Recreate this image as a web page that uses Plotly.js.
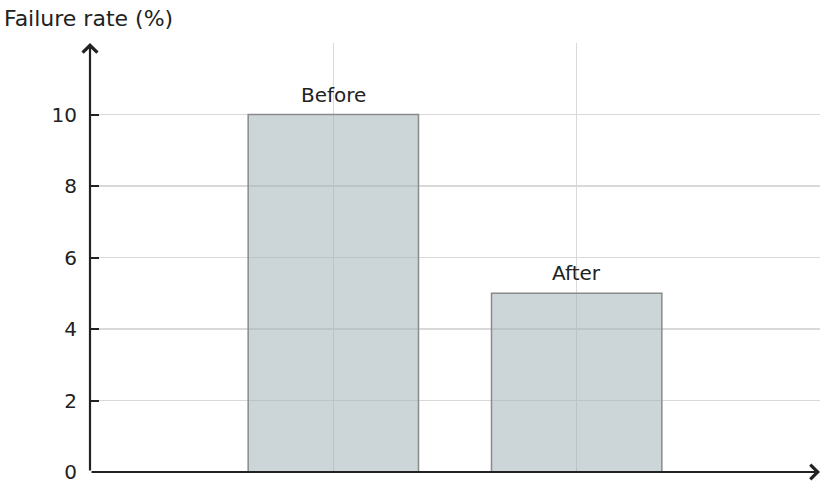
<!DOCTYPE html>
<html>
<head>
<meta charset="utf-8">
<script src="https://cdn.plot.ly/plotly-3.0.1.min.js"></script>
<style>html,body{margin:0;padding:0;background:#fff}#chart{width:823px;height:486px}</style>
</head>
<body>
<div id="chart"></div>
<script>
var categories = ["Before", "After"];
var positions = [1, 2];
var failureRate = [10, 5];
var yTickVals = [0, 2, 4, 6, 8, 10, 12];
var yTickText = ["0", "2", "4", "6", "8", "10", ""];

var font = "DejaVu Sans, sans-serif";
var ink = "#222222";

var trace = {
  type: "bar",
  x: positions,
  y: failureRate,
  width: 0.7,
  marker: {color: "rgba(163,178,184,0.55)", line: {color: "#8a8a8a", width: 1.5}},
  hoverinfo: "skip"
};

var annotations = categories.map(function (c, i) {
  return {x: positions[i], y: failureRate[i], xref: "x", yref: "y", text: c,
    showarrow: false, yanchor: "middle", yshift: 20,
    font: {family: font, size: 20, color: ink}};
});
// axis arrows
annotations.push({x: 0, y: 12, ax: 0, ay: 0, xref: "x", yref: "y", axref: "x", ayref: "y",
  text: "", showarrow: true, arrowhead: 4, arrowsize: 1.3, arrowwidth: 2.2, arrowcolor: ink, standoff: 0});
annotations.push({x: 3, y: 0, ax: 0, ay: 0, xref: "x", yref: "y", axref: "x", ayref: "y",
  text: "", showarrow: true, arrowhead: 4, arrowsize: 1.3, arrowwidth: 2.2, arrowcolor: ink, standoff: 0});
annotations.push({x: 0, y: 1, xref: "paper", yref: "paper", xanchor: "left", yanchor: "middle",
  text: "Failure rate (%)", showarrow: false, xshift: -88, yshift: 25,
  font: {family: font, size: 22, color: ink}});

var layout = {
  width: 823, height: 486,
  margin: {l: 90, r: 3, t: 43, b: 14, pad: 0},
  paper_bgcolor: "#ffffff", plot_bgcolor: "#ffffff",
  font: {family: font, size: 20, color: ink},
  showlegend: false,
  xaxis: {range: [0, 3], tickvals: [1, 2, 3], showticklabels: false,
    showgrid: true, gridcolor: "#d9d9d9", gridwidth: 1.3,
    ticks: "inside", ticklen: 3, tickcolor: "#bbbbbb",
    zeroline: false, showline: false, fixedrange: true},
  yaxis: {range: [0, 12], tickvals: yTickVals, ticktext: yTickText,
    showgrid: true, gridcolor: "#d9d9d9", gridwidth: 1.3,
    ticks: "inside", ticklen: 9, tickwidth: 2, tickcolor: ink,
    tickfont: {family: font, size: 20, color: ink}, ticklabelstandoff: 12,
    zeroline: false, showline: false, fixedrange: true},
  annotations: annotations
};

Plotly.newPlot("chart", [trace], layout, {displayModeBar: false, staticPlot: true});
</script>
</body>
</html>
